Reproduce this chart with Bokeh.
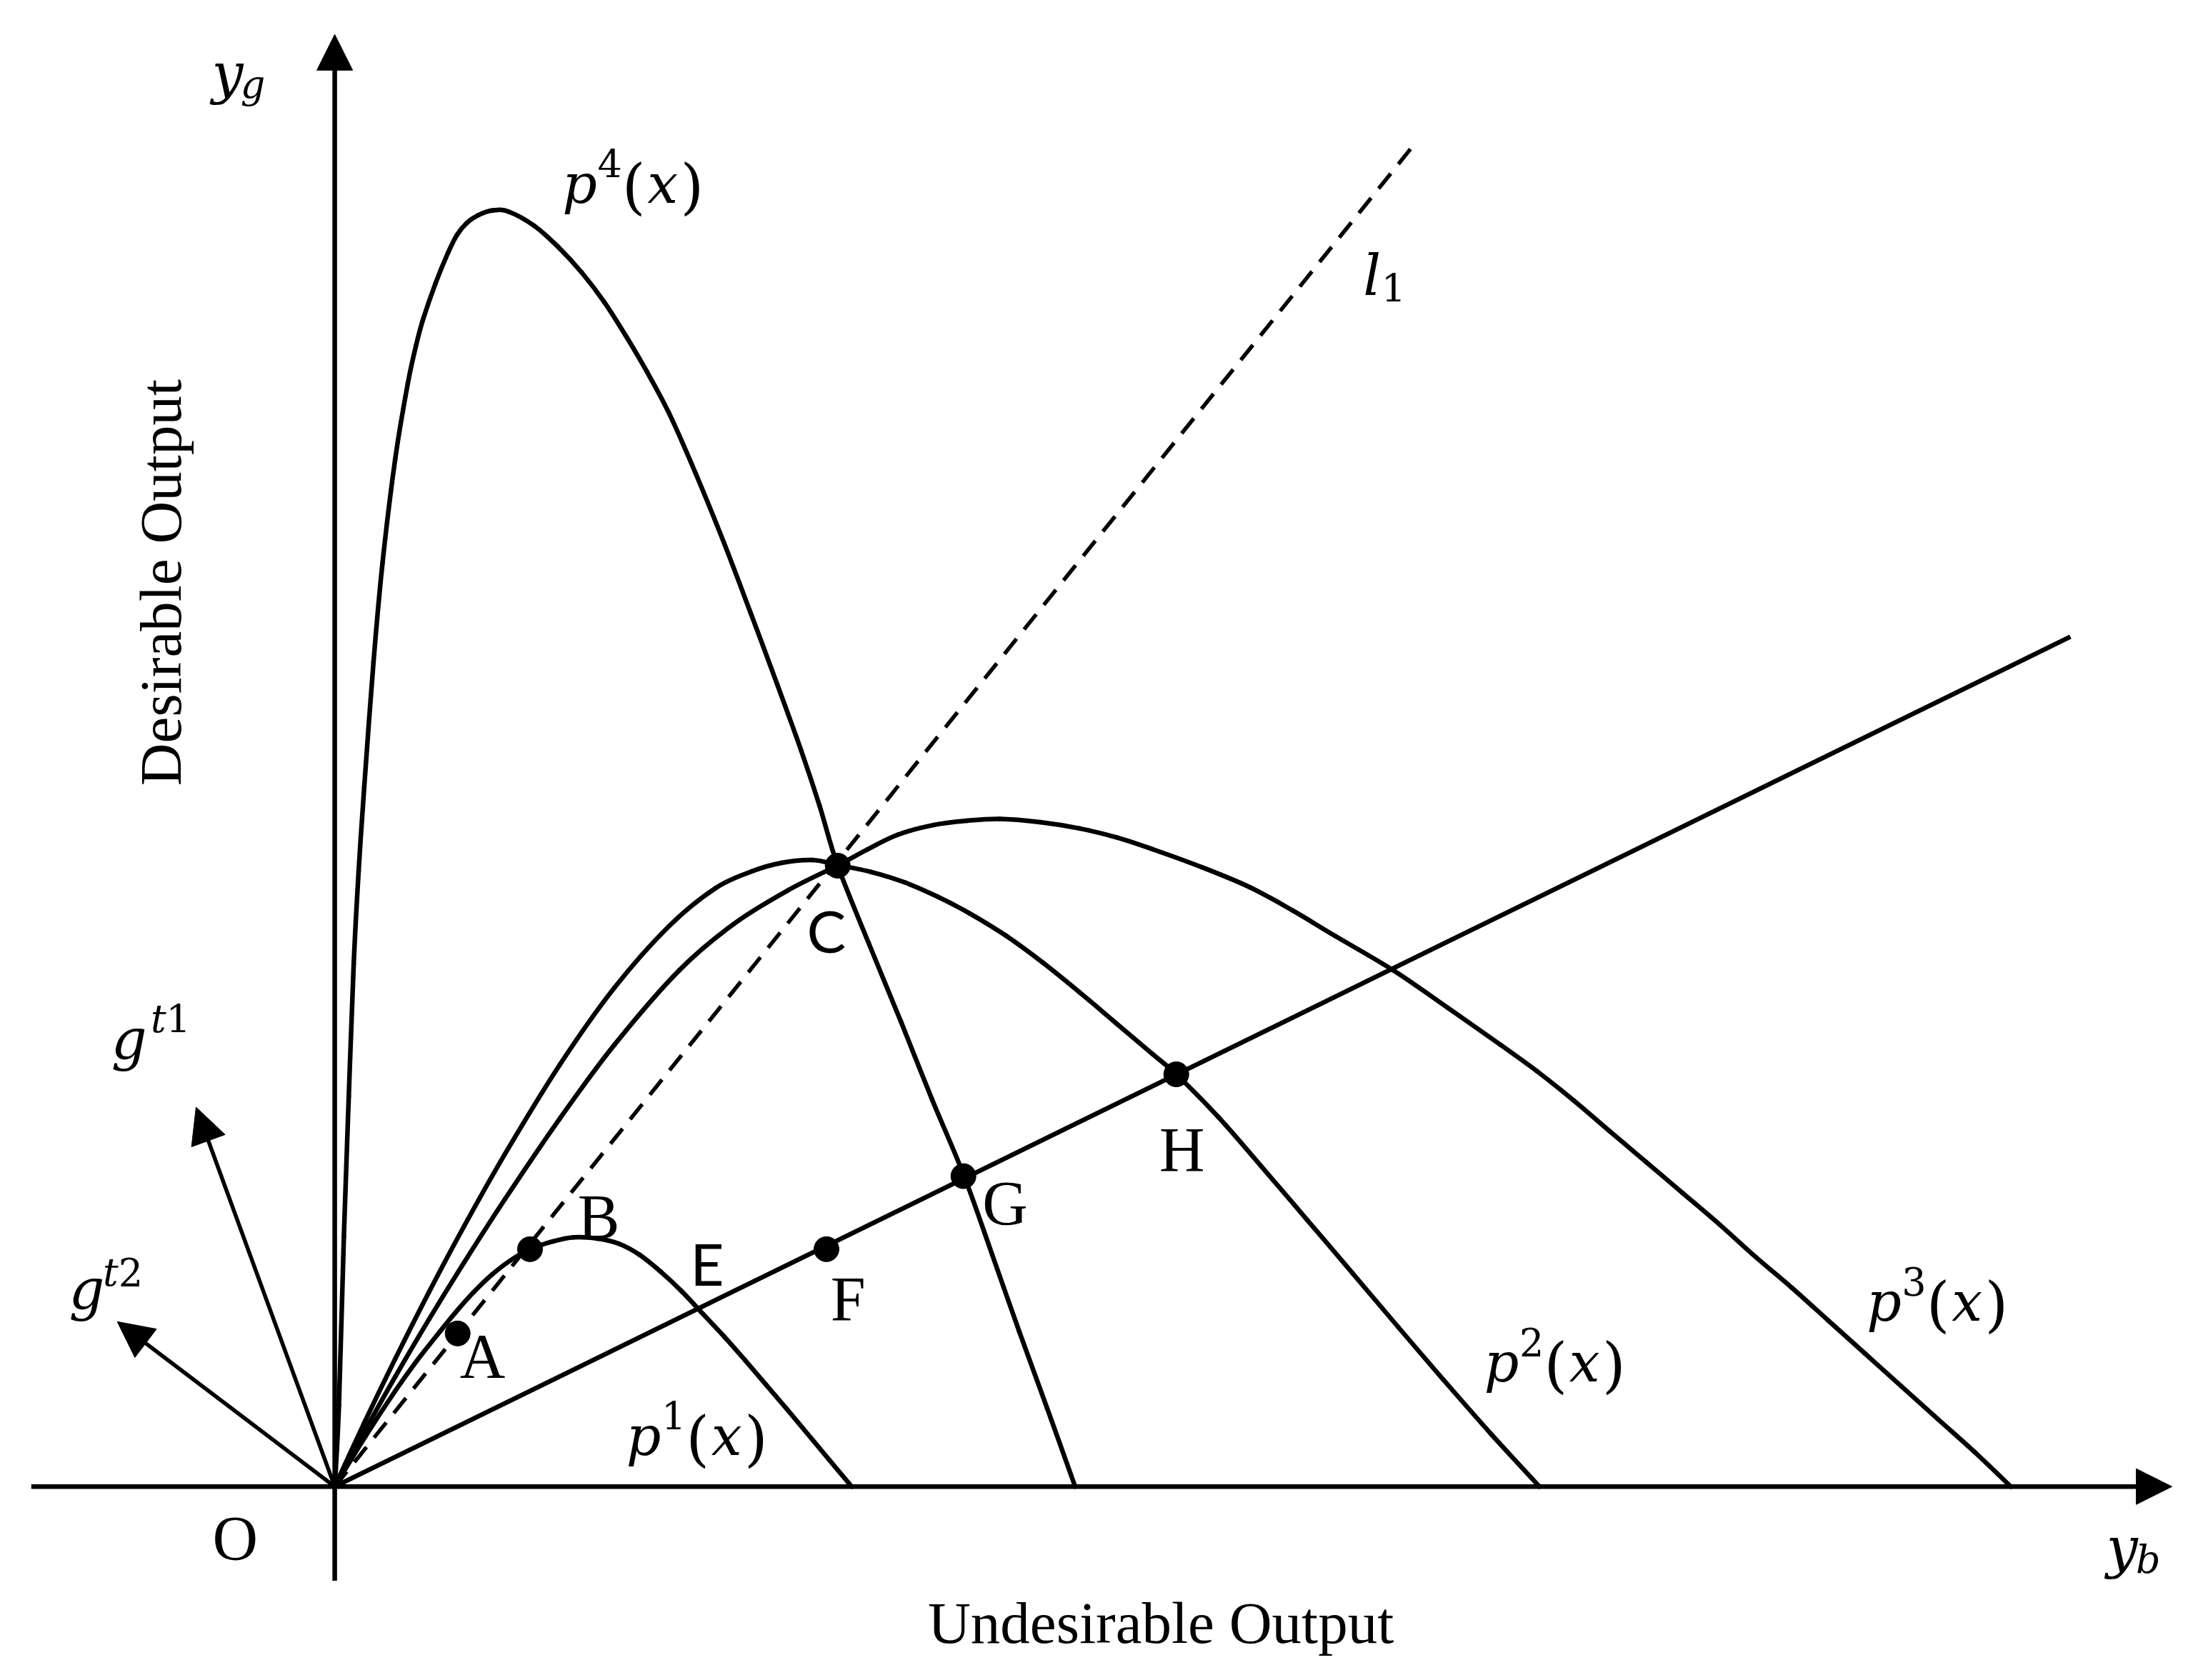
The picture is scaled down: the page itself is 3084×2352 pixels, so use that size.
from bokeh.plotting import figure
from bokeh.models import Range1d, Arrow, NormalHead
from bokeh.core.properties import value
from bokeh.embed import file_html
from bokeh.resources import INLINE

# ---------------- data (diagram units, origin O at 0,0) ----------------
P4_X = [0, 3, 6.5, 10, 13.5, 17, 21, 27.6, 34, 43, 52, 58, 63, 71.7, 80.5, 87, 94, 102, 112.6,
        124, 142, 159, 176, 192, 207, 222, 238, 257, 277, 296, 315, 332, 345, 358, 380, 403,
        425, 448, 468, 487, 507, 527]
P4_Y = [0, 58, 178, 278, 372, 438, 498, 587, 657.4, 731.2, 785.2, 812.8, 831.3, 856.5, 878, 891, 899.5,
        905, 908.5, 907.5, 897.5, 882.5, 864, 843, 819.5, 794, 764, 721, 672, 622, 571, 524, 485, 442,
        387, 331, 276, 221, 165, 111, 56, 0]

P1_X = [0, 22, 43, 58, 73, 86, 99, 112, 125, 139, 155, 170, 187, 202, 217, 232, 247, 262, 277,
        292, 307, 322, 337, 352, 368]
P1_Y = [0, 36, 68, 89, 108, 124, 138.5, 151, 161, 169, 174.5, 177.5, 176.6, 173, 165, 153, 139, 123,
        107, 90, 72.5, 55, 37, 19, 0]

P2_X = [0, 21, 43, 67, 92, 121, 160, 199, 238, 271, 297, 318, 340, 358, 382, 406, 429, 452, 478,
        504, 530, 556, 582, 599, 629, 659.5, 692, 724.4, 757, 789.2, 823, 857.5]
P2_Y = [0, 45.3, 90.8, 138.3, 185.2, 236.5, 300, 355, 399, 426, 438, 444, 446, 442.5, 437.5, 430, 420,
        408, 392, 373, 352, 330, 308, 293.5, 263, 228, 190, 152, 113.5, 76, 37.5, 0]

P3_X = [0, 22, 43, 67, 92, 121, 160, 199, 245, 284, 323, 358, 379, 400.6, 426.6, 450, 473.3, 502,
        530.3, 557, 582.2, 617, 651.7, 682, 712, 753.5, 792, 829.7, 855.6, 881.6, 907.5, 933.5,
        959.4, 985.3, 1011.3, 1037.2, 1063.2, 1089.1, 1115, 1141, 1167, 1193]
P3_Y = [0, 40.7, 78.1, 118.9, 159.4, 204.4, 261.7, 314.4, 367.3, 400.5, 424.7, 442.2, 453.5, 464, 471,
        474, 475.3, 473, 468.5, 462, 453.7, 441, 426.5, 410, 392, 367.5, 341, 314.5, 295.8, 275.1,
        253, 231, 209, 186.9, 163.5, 141.5, 118.1, 94.8, 71.5, 48.1, 24.8, 0]

RAY_X = [0, 1235.4]
RAY_Y = [0, 605]
L1_X = [0, 767.7]
L1_Y = [0, 954.7]

PT_NAMES = ["A", "B", "C", "F", "G", "H"]
PT_X = [87.5, 139, 358, 350, 447.5, 599]
PT_Y = [109, 169, 442, 169, 221, 293.5]

XAXIS = [-216, 1307.7]
YAXIS = [-67, 1033.7]
G1_TIP = [-98.7, 270.1]
G2_TIP = [-154.8, 117.4]

# ---------------- figure ----------------
p = figure(width=3068, height=2336,
           x_range=Range1d(-238.0, 1321.9), y_range=Range1d(-129.8, 1058.0),
           output_backend="svg", toolbar_location=None, min_border=0,
           x_axis_type=None, y_axis_type=None)
p.grid.visible = False
p.outline_line_color = None
p.background_fill_color = "white"
p.border_fill_color = "white"

LW = 6.5


def smooth_curve(xs, ys, lw=LW):
    """Draw a smooth curve through the read points (Catmull-Rom as Bezier segments)."""
    n = len(xs)
    seg = dict(x0=[], y0=[], x1=[], y1=[], cx0=[], cy0=[], cx1=[], cy1=[])
    for i in range(n - 1):
        xa, ya = (xs[i - 1], ys[i - 1]) if i > 0 else (xs[i], ys[i])
        xb, yb = (xs[i + 2], ys[i + 2]) if i + 2 < n else (xs[i + 1], ys[i + 1])
        seg["x0"].append(xs[i]); seg["y0"].append(ys[i])
        seg["x1"].append(xs[i + 1]); seg["y1"].append(ys[i + 1])
        seg["cx0"].append(xs[i] + (xs[i + 1] - xa) / 6.0)
        seg["cy0"].append(ys[i] + (ys[i + 1] - ya) / 6.0)
        seg["cx1"].append(xs[i + 1] - (xb - xs[i]) / 6.0)
        seg["cy1"].append(ys[i + 1] - (yb - ys[i]) / 6.0)
    p.bezier(line_color="black", line_width=lw, line_cap="round", **seg)


for xs, ys in [(P4_X, P4_Y), (P1_X, P1_Y), (P2_X, P2_Y), (P3_X, P3_Y)]:
    smooth_curve(xs, ys)

p.line(RAY_X, RAY_Y, line_color="black", line_width=LW, line_cap="butt")
p.line(L1_X, L1_Y, line_color="black", line_width=5.5, line_dash="27 17")


# axes & direction arrows
def arrow(x0, y0, x1, y1, lw=LW):
    p.add_layout(Arrow(end=NormalHead(size=50, fill_color="black", line_color="black", line_width=1),
                       x_start=x0, y_start=y0, x_end=x1, y_end=y1,
                       line_color="black", line_width=lw))


arrow(XAXIS[0], 0, XAXIS[1], 0)
arrow(0, YAXIS[0], 0, YAXIS[1])
arrow(0, 0, G1_TIP[0], G1_TIP[1], 5.5)
arrow(0, 0, G2_TIP[0], G2_TIP[1], 5.5)

p.scatter(PT_X, PT_Y, size=35, color="black")

# ---------------- texts ----------------
SERIF_DY = 14.0   # baseline correction for the serif labels (diagram units)
MATH_DY = 11.0


def txt(xs, ys, texts, font, size, style="normal", align="left", angle=0.0, dy=0.0, dx=0.0):
    p.text(x=[v + dx for v in xs], y=[v + dy for v in ys], text=texts,
           text_font=value(font), text_font_size=value(size),
           text_font_style=style, text_align=align, text_baseline="alphabetic",
           text_color="black", angle=angle)


SERIF = "Liberation Serif"
MATH = "DejaVu Serif"

# point labels
txt([89, 173, 353, 461, 587, -87], [79, 178, 119.5, 187.5, 226, -51],
    ["A", "B", "F", "G", "H", "O"], SERIF, "88px", dy=SERIF_DY)
txt([336, 253], [381, 144.5], ["C", "E"], "Lato", "82px", dy=SERIF_DY + 1)

# axis titles
txt([588], [-110], ["Undesirable Output"], SERIF, "83px", align="center", dy=SERIF_DY - 1)
txt([-105], [643.5], ["Desirable Output"], SERIF, "83px", align="center", angle=1.5708, dx=-19)

# p^k(x) labels
P_LABEL_X = [162, 207.5, 818.2, 1090.4]
P_LABEL_Y = [916.5, 25, 77.5, 120.7]
P_SUP = ["4", "1", "2", "3"]
txt(P_LABEL_X, P_LABEL_Y, ["p"] * 4, MATH, "76px", style="italic", dy=MATH_DY)
txt([v + 25 for v in P_LABEL_X], [v + 14.5 for v in P_LABEL_Y], P_SUP, MATH, "54px", dy=MATH_DY)
txt([v + 42.5 for v in P_LABEL_X], [v - 2 for v in P_LABEL_Y], ["("] * 4, MATH, "84px", dy=MATH_DY)
txt([v + 60.5 for v in P_LABEL_X], P_LABEL_Y, ["x"] * 4, MATH, "76px", style="italic", dy=MATH_DY)
txt([v + 84 for v in P_LABEL_X], [v - 2 for v in P_LABEL_Y], [")"] * 4, MATH, "84px", dy=MATH_DY)

# g^t1, g^t2
txt([-159.1, -189.2], [310.7, 132.7], ["g", "g"], MATH, "78px", style="italic", dy=MATH_DY - 4)
txt([-131, -165], [326, 145.5], ["t", "t"], MATH, "54px", style="italic", dy=MATH_DY - 4)
txt([-120, -154], [326, 145.5], ["1", "2"], MATH, "54px", dy=MATH_DY - 4)

# y_g, y_b, l_1
txt([-87.5, 1261, 732], [997, -52.6, 853], ["y", "y", "l"], MATH, "78px", style="italic", dy=MATH_DY - 2)
txt([-67, 1282], [988.8, -61], ["g", "b"], MATH, "54px", style="italic", dy=MATH_DY - 2)
txt([745], [844.4], ["1"], MATH, "54px", dy=MATH_DY - 2)

open("out.html", "w").write(file_html(p, INLINE))
